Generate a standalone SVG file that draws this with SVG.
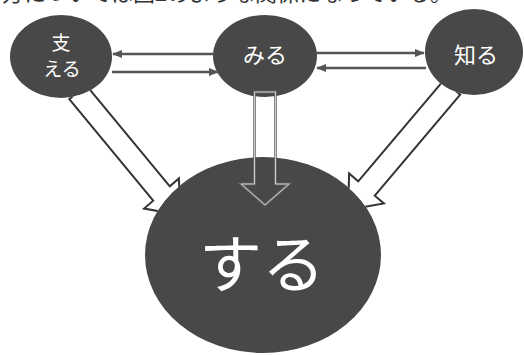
<svg xmlns="http://www.w3.org/2000/svg" width="524" height="355" viewBox="0 0 524 355">
<style>
.node{fill:#484848;}
.lbl{fill:#ffffff;font-family:"Noto Sans CJK JP","Noto Sans",sans-serif;text-anchor:middle;}
.thin{stroke:#555;stroke-width:2.4;fill:none;marker-end:url(#ah);}
.block{fill:#ffffff;stroke:#333;stroke-width:2;stroke-linejoin:miter;}
.mid1{fill:none;stroke:#6a6a6a;stroke-width:2.6;}
.mid2{fill:none;stroke:#d8d8d8;stroke-width:0.9;}
.top{fill:#333;font-family:"Noto Sans CJK JP","Noto Sans",sans-serif;font-size:22px;}
</style>
<defs>
<marker id="ah" markerUnits="userSpaceOnUse" markerWidth="10" markerHeight="8" refX="9" refY="4" orient="auto">
<path d="M0,0 L10,4 L0,8 z" fill="#555"/>
</marker>
<mask id="outside" maskUnits="userSpaceOnUse" x="0" y="0" width="524" height="355">
<rect x="0" y="0" width="524" height="355" fill="#fff"/>
<ellipse cx="263" cy="255" rx="118" ry="98" fill="#000"/>
<ellipse cx="61" cy="56.5" rx="51" ry="41.5" fill="#000"/>
<ellipse cx="474" cy="52" rx="49" ry="43" fill="#000"/>
</mask>
</defs>
<rect width="524" height="355" fill="#ffffff"/>
<text class="top" x="2" y="1">方については図2のような関係になっている。</text>

<g id="sasaeru">
<ellipse class="node" cx="61" cy="56.5" rx="51" ry="41.5"/>
<text class="lbl" x="61" y="50" font-size="19">支</text>
<text class="lbl" x="62" y="76" font-size="19">える</text>
</g>
<g id="miru">
<ellipse class="node" cx="265" cy="56" rx="52" ry="41"/>
<text class="lbl" x="265" y="63" font-size="22">みる</text>
</g>
<g id="shiru">
<ellipse class="node" cx="474" cy="52" rx="49" ry="43"/>
<text class="lbl" x="476" y="63" font-size="22">知る</text>
</g>
<g id="suru">
<ellipse class="node" cx="263" cy="255" rx="118" ry="98"/>
<text class="lbl" x="262" y="287" font-size="63">する</text>
</g>

<g id="connectors">
<line class="thin" x1="214" y1="54" x2="113" y2="54"/>
<line class="thin" x1="112" y1="72" x2="218" y2="72"/>
<line class="thin" x1="316" y1="53" x2="424" y2="53"/>
<line class="thin" x1="426" y1="68" x2="317" y2="68"/>
<polygon class="block" mask="url(#outside)" points="85.9,84.8 169.8,186.3 178.9,178.4 180,215 144.1,208.6 153.2,200.7 69.3,99.2"/>
<polygon class="block" mask="url(#outside)" points="443.6,80.3 358.2,181.3 349.1,173.5 348.2,209.7 383.9,203.5 374.8,195.7 460.2,94.7"/>
<polygon class="mid1" points="254.5,92 275.5,92 275.5,184 289,184 265,205 241,184 254.5,184"/>
<polygon class="mid2" points="254.5,92 275.5,92 275.5,184 289,184 265,205 241,184 254.5,184"/>
</g>
</svg>
